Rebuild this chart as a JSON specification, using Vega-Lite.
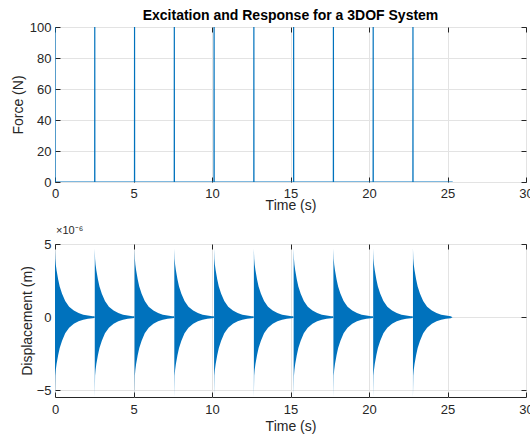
{
  "$schema": "https://vega.github.io/schema/vega-lite/v6.json",
  "autosize": {"type": "none"},
  "padding": {"left": 55, "top": 27, "right": 475, "bottom": 407},
  "background": "white",
  "spacing": 62,
  "bounds": "flush",
  "config": {
    "font": "Liberation Sans",
    "view": {"stroke": "#262626", "strokeWidth": 1},
    "axis": {
      "labelFont": "Liberation Sans", "labelFontSize": 13, "labelColor": "#262626",
      "titleFont": "Liberation Sans", "titleFontSize": 14, "titleFontWeight": "normal", "titleColor": "#262626",
      "gridColor": "#e3e3e3", "gridWidth": 1, "domain": false, "labelFlush": false,
      "tickColor": "#262626", "tickSize": -5, "labelPadding": 10
    }
  },
  "datasets": {
    "force": [
      {"t": 0, "f": 100}, {"t": 0.004, "f": 0},
      {"t": 2.529, "f": 0}, {"t": 2.533, "f": 100}, {"t": 2.537, "f": 0},
      {"t": 5.063, "f": 0}, {"t": 5.067, "f": 100}, {"t": 5.071, "f": 0},
      {"t": 7.596, "f": 0}, {"t": 7.6, "f": 100}, {"t": 7.604, "f": 0},
      {"t": 10.129, "f": 0}, {"t": 10.133, "f": 100}, {"t": 10.137, "f": 0},
      {"t": 12.663, "f": 0}, {"t": 12.667, "f": 100}, {"t": 12.671, "f": 0},
      {"t": 15.196, "f": 0}, {"t": 15.2, "f": 100}, {"t": 15.204, "f": 0},
      {"t": 17.729, "f": 0}, {"t": 17.733, "f": 100}, {"t": 17.737, "f": 0},
      {"t": 20.263, "f": 0}, {"t": 20.267, "f": 100}, {"t": 20.271, "f": 0},
      {"t": 22.796, "f": 0}, {"t": 22.8, "f": 100}, {"t": 22.804, "f": 0},
      {"t": 25.33, "f": 0}
    ],
    "resp": [
      {"p":0,"t":0,"hi":4.7,"lo":-5.5},{"p":0,"t":0.02,"hi":4.0,"lo":-4.0},{"p":0,"t":0.05,"hi":3.6,"lo":-3.6},{"p":0,"t":0.1,"hi":3.2,"lo":-3.2},{"p":0,"t":0.2,"hi":2.6,"lo":-2.6},{"p":0,"t":0.3,"hi":2.1,"lo":-2.1},{"p":0,"t":0.45,"hi":1.6,"lo":-1.6},{"p":0,"t":0.65,"hi":1.1,"lo":-1.1},{"p":0,"t":0.9,"hi":0.72,"lo":-0.72},{"p":0,"t":1.2,"hi":0.45,"lo":-0.45},{"p":0,"t":1.5,"hi":0.28,"lo":-0.28},{"p":0,"t":1.8,"hi":0.17,"lo":-0.17},{"p":0,"t":2.1,"hi":0.11,"lo":-0.11},{"p":0,"t":2.4,"hi":0.07,"lo":-0.07},{"p":0,"t":2.52,"hi":0.06,"lo":-0.06},
      {"p":1,"t":2.533,"hi":4.7,"lo":-5.5},{"p":1,"t":2.553,"hi":4.0,"lo":-4.0},{"p":1,"t":2.583,"hi":3.6,"lo":-3.6},{"p":1,"t":2.633,"hi":3.2,"lo":-3.2},{"p":1,"t":2.733,"hi":2.6,"lo":-2.6},{"p":1,"t":2.833,"hi":2.1,"lo":-2.1},{"p":1,"t":2.983,"hi":1.6,"lo":-1.6},{"p":1,"t":3.183,"hi":1.1,"lo":-1.1},{"p":1,"t":3.433,"hi":0.72,"lo":-0.72},{"p":1,"t":3.733,"hi":0.45,"lo":-0.45},{"p":1,"t":4.033,"hi":0.28,"lo":-0.28},{"p":1,"t":4.333,"hi":0.17,"lo":-0.17},{"p":1,"t":4.633,"hi":0.11,"lo":-0.11},{"p":1,"t":4.933,"hi":0.07,"lo":-0.07},{"p":1,"t":5.053,"hi":0.06,"lo":-0.06},
      {"p":2,"t":5.067,"hi":4.7,"lo":-5.5},{"p":2,"t":5.087,"hi":4.0,"lo":-4.0},{"p":2,"t":5.117,"hi":3.6,"lo":-3.6},{"p":2,"t":5.167,"hi":3.2,"lo":-3.2},{"p":2,"t":5.267,"hi":2.6,"lo":-2.6},{"p":2,"t":5.367,"hi":2.1,"lo":-2.1},{"p":2,"t":5.517,"hi":1.6,"lo":-1.6},{"p":2,"t":5.717,"hi":1.1,"lo":-1.1},{"p":2,"t":5.967,"hi":0.72,"lo":-0.72},{"p":2,"t":6.267,"hi":0.45,"lo":-0.45},{"p":2,"t":6.567,"hi":0.28,"lo":-0.28},{"p":2,"t":6.867,"hi":0.17,"lo":-0.17},{"p":2,"t":7.167,"hi":0.11,"lo":-0.11},{"p":2,"t":7.467,"hi":0.07,"lo":-0.07},{"p":2,"t":7.587,"hi":0.06,"lo":-0.06},
      {"p":3,"t":7.6,"hi":4.7,"lo":-5.5},{"p":3,"t":7.62,"hi":4.0,"lo":-4.0},{"p":3,"t":7.65,"hi":3.6,"lo":-3.6},{"p":3,"t":7.7,"hi":3.2,"lo":-3.2},{"p":3,"t":7.8,"hi":2.6,"lo":-2.6},{"p":3,"t":7.9,"hi":2.1,"lo":-2.1},{"p":3,"t":8.05,"hi":1.6,"lo":-1.6},{"p":3,"t":8.25,"hi":1.1,"lo":-1.1},{"p":3,"t":8.5,"hi":0.72,"lo":-0.72},{"p":3,"t":8.8,"hi":0.45,"lo":-0.45},{"p":3,"t":9.1,"hi":0.28,"lo":-0.28},{"p":3,"t":9.4,"hi":0.17,"lo":-0.17},{"p":3,"t":9.7,"hi":0.11,"lo":-0.11},{"p":3,"t":10.0,"hi":0.07,"lo":-0.07},{"p":3,"t":10.12,"hi":0.06,"lo":-0.06},
      {"p":4,"t":10.133,"hi":4.7,"lo":-5.5},{"p":4,"t":10.153,"hi":4.0,"lo":-4.0},{"p":4,"t":10.183,"hi":3.6,"lo":-3.6},{"p":4,"t":10.233,"hi":3.2,"lo":-3.2},{"p":4,"t":10.333,"hi":2.6,"lo":-2.6},{"p":4,"t":10.433,"hi":2.1,"lo":-2.1},{"p":4,"t":10.583,"hi":1.6,"lo":-1.6},{"p":4,"t":10.783,"hi":1.1,"lo":-1.1},{"p":4,"t":11.033,"hi":0.72,"lo":-0.72},{"p":4,"t":11.333,"hi":0.45,"lo":-0.45},{"p":4,"t":11.633,"hi":0.28,"lo":-0.28},{"p":4,"t":11.933,"hi":0.17,"lo":-0.17},{"p":4,"t":12.233,"hi":0.11,"lo":-0.11},{"p":4,"t":12.533,"hi":0.07,"lo":-0.07},{"p":4,"t":12.653,"hi":0.06,"lo":-0.06},
      {"p":5,"t":12.667,"hi":4.7,"lo":-5.5},{"p":5,"t":12.687,"hi":4.0,"lo":-4.0},{"p":5,"t":12.717,"hi":3.6,"lo":-3.6},{"p":5,"t":12.767,"hi":3.2,"lo":-3.2},{"p":5,"t":12.867,"hi":2.6,"lo":-2.6},{"p":5,"t":12.967,"hi":2.1,"lo":-2.1},{"p":5,"t":13.117,"hi":1.6,"lo":-1.6},{"p":5,"t":13.317,"hi":1.1,"lo":-1.1},{"p":5,"t":13.567,"hi":0.72,"lo":-0.72},{"p":5,"t":13.867,"hi":0.45,"lo":-0.45},{"p":5,"t":14.167,"hi":0.28,"lo":-0.28},{"p":5,"t":14.467,"hi":0.17,"lo":-0.17},{"p":5,"t":14.767,"hi":0.11,"lo":-0.11},{"p":5,"t":15.067,"hi":0.07,"lo":-0.07},{"p":5,"t":15.187,"hi":0.06,"lo":-0.06},
      {"p":6,"t":15.2,"hi":4.7,"lo":-5.5},{"p":6,"t":15.22,"hi":4.0,"lo":-4.0},{"p":6,"t":15.25,"hi":3.6,"lo":-3.6},{"p":6,"t":15.3,"hi":3.2,"lo":-3.2},{"p":6,"t":15.4,"hi":2.6,"lo":-2.6},{"p":6,"t":15.5,"hi":2.1,"lo":-2.1},{"p":6,"t":15.65,"hi":1.6,"lo":-1.6},{"p":6,"t":15.85,"hi":1.1,"lo":-1.1},{"p":6,"t":16.1,"hi":0.72,"lo":-0.72},{"p":6,"t":16.4,"hi":0.45,"lo":-0.45},{"p":6,"t":16.7,"hi":0.28,"lo":-0.28},{"p":6,"t":17.0,"hi":0.17,"lo":-0.17},{"p":6,"t":17.3,"hi":0.11,"lo":-0.11},{"p":6,"t":17.6,"hi":0.07,"lo":-0.07},{"p":6,"t":17.72,"hi":0.06,"lo":-0.06},
      {"p":7,"t":17.733,"hi":4.7,"lo":-5.5},{"p":7,"t":17.753,"hi":4.0,"lo":-4.0},{"p":7,"t":17.783,"hi":3.6,"lo":-3.6},{"p":7,"t":17.833,"hi":3.2,"lo":-3.2},{"p":7,"t":17.933,"hi":2.6,"lo":-2.6},{"p":7,"t":18.033,"hi":2.1,"lo":-2.1},{"p":7,"t":18.183,"hi":1.6,"lo":-1.6},{"p":7,"t":18.383,"hi":1.1,"lo":-1.1},{"p":7,"t":18.633,"hi":0.72,"lo":-0.72},{"p":7,"t":18.933,"hi":0.45,"lo":-0.45},{"p":7,"t":19.233,"hi":0.28,"lo":-0.28},{"p":7,"t":19.533,"hi":0.17,"lo":-0.17},{"p":7,"t":19.833,"hi":0.11,"lo":-0.11},{"p":7,"t":20.133,"hi":0.07,"lo":-0.07},{"p":7,"t":20.253,"hi":0.06,"lo":-0.06},
      {"p":8,"t":20.267,"hi":4.7,"lo":-5.5},{"p":8,"t":20.287,"hi":4.0,"lo":-4.0},{"p":8,"t":20.317,"hi":3.6,"lo":-3.6},{"p":8,"t":20.367,"hi":3.2,"lo":-3.2},{"p":8,"t":20.467,"hi":2.6,"lo":-2.6},{"p":8,"t":20.567,"hi":2.1,"lo":-2.1},{"p":8,"t":20.717,"hi":1.6,"lo":-1.6},{"p":8,"t":20.917,"hi":1.1,"lo":-1.1},{"p":8,"t":21.167,"hi":0.72,"lo":-0.72},{"p":8,"t":21.467,"hi":0.45,"lo":-0.45},{"p":8,"t":21.767,"hi":0.28,"lo":-0.28},{"p":8,"t":22.067,"hi":0.17,"lo":-0.17},{"p":8,"t":22.367,"hi":0.11,"lo":-0.11},{"p":8,"t":22.667,"hi":0.07,"lo":-0.07},{"p":8,"t":22.787,"hi":0.06,"lo":-0.06},
      {"p":9,"t":22.8,"hi":4.7,"lo":-5.5},{"p":9,"t":22.82,"hi":4.0,"lo":-4.0},{"p":9,"t":22.85,"hi":3.6,"lo":-3.6},{"p":9,"t":22.9,"hi":3.2,"lo":-3.2},{"p":9,"t":23.0,"hi":2.6,"lo":-2.6},{"p":9,"t":23.1,"hi":2.1,"lo":-2.1},{"p":9,"t":23.25,"hi":1.6,"lo":-1.6},{"p":9,"t":23.45,"hi":1.1,"lo":-1.1},{"p":9,"t":23.7,"hi":0.72,"lo":-0.72},{"p":9,"t":24.0,"hi":0.45,"lo":-0.45},{"p":9,"t":24.3,"hi":0.28,"lo":-0.28},{"p":9,"t":24.6,"hi":0.17,"lo":-0.17},{"p":9,"t":24.9,"hi":0.11,"lo":-0.11},{"p":9,"t":25.2,"hi":0.07,"lo":-0.07},{"p":9,"t":25.32,"hi":0.0,"lo":0.0}
    ]
  },
  "vconcat": [
    {
      "width": 471,
      "height": 155,
      "title": {"text": "Excitation and Response for a 3DOF System", "fontSize": 14, "fontWeight": "bold", "color": "#000000", "anchor": "middle", "frame": "group", "offset": -2},
      "data": {"name": "force"},
      "resolve": {"axis": {"x": "independent", "y": "independent"}},
      "layer": [
        {
          "mark": {"type": "line", "color": "#0072BD", "strokeWidth": 1.2, "clip": true},
          "encoding": {
            "x": {"field": "t", "type": "quantitative", "scale": {"domain": [0, 30], "nice": false}, "axis": {"orient": "bottom", "title": "Time (s)", "values": [0, 5, 10, 15, 20, 25, 30], "labelPadding": 10.5, "titlePadding": -2.5}},
            "y": {"field": "f", "type": "quantitative", "scale": {"domain": [0, 100], "nice": false}, "axis": {"orient": "left", "title": "Force (N)", "values": [0, 20, 40, 60, 80, 100], "titlePadding": 4, "labelPadding": 9}}
          }
        },
        {
          "mark": {"type": "line", "opacity": 0, "clip": true},
          "encoding": {
            "x": {"field": "t", "type": "quantitative", "axis": {"orient": "top", "title": null, "labels": false, "grid": false, "values": [0, 5, 10, 15, 20, 25, 30]}},
            "y": {"field": "f", "type": "quantitative", "axis": {"orient": "right", "title": null, "labels": false, "grid": false, "values": [0, 20, 40, 60, 80, 100]}}
          }
        }
      ]
    },
    {
      "width": 471,
      "height": 153,
      "title": {"text": "×10⁻⁶", "fontSize": 11, "fontWeight": "normal", "color": "#262626", "anchor": "start", "frame": "group", "offset": 2, "dx": 1},
      "data": {"name": "resp"},
      "resolve": {"axis": {"x": "independent", "y": "independent"}},
      "layer": [
        {
          "mark": {"type": "area", "color": "#0072BD", "opacity": 1, "clip": true},
          "encoding": {
            "x": {"field": "t", "type": "quantitative", "scale": {"domain": [0, 30], "nice": false}, "axis": {"orient": "bottom", "title": "Time (s)", "values": [0, 5, 10, 15, 20, 25, 30], "labelPadding": 11.5, "titlePadding": 2.5}},
            "y": {"field": "hi", "type": "quantitative", "scale": {"domain": [-5.45, 5], "nice": false, "zero": false}, "axis": {"orient": "left", "title": "Displacement (m)", "values": [-5, 0, 5], "titlePadding": 1.2, "labelPadding": 9}},
            "y2": {"field": "lo"},
            "detail": {"field": "p", "type": "nominal"}
          }
        },
        {
          "mark": {"type": "area", "opacity": 0, "clip": true},
          "encoding": {
            "x": {"field": "t", "type": "quantitative", "axis": {"orient": "top", "title": null, "labels": false, "grid": false, "values": [0, 5, 10, 15, 20, 25, 30]}},
            "y": {"field": "hi", "type": "quantitative", "axis": {"orient": "right", "title": null, "labels": false, "grid": false, "values": [-5, 0, 5]}},
            "y2": {"field": "lo"},
            "detail": {"field": "p", "type": "nominal"}
          }
        }
      ]
    }
  ]
}
